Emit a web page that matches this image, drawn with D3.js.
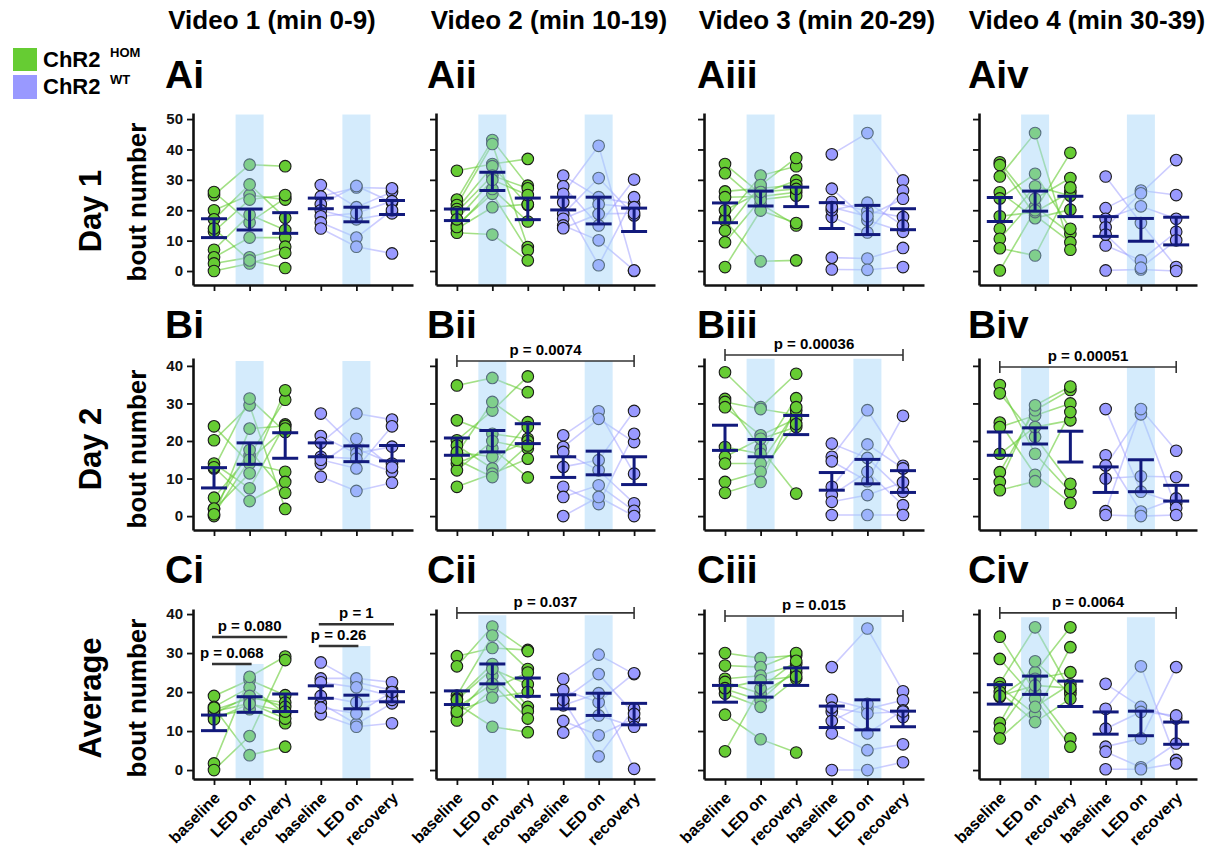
<!DOCTYPE html>
<html>
<head>
<meta charset="utf-8">
<script src="https://cdn.jsdelivr.net/npm/d3@7"></script>
<style>
  body { margin: 0; background: #fff; }
  svg { font-family: "Liberation Sans", Arial, sans-serif; font-weight: bold; }
</style>
</head>
<body>
<svg id="chart" width="1221" height="860"></svg>
<script>
// ---------- data (bout numbers) ----------
const conditions = ['baseline', 'LED on', 'recovery']
const columnTitles = ['Video 1 (min 0-9)', 'Video 2 (min 10-19)', 'Video 3 (min 20-29)', 'Video 4 (min 30-39)']
const rowNames = ['A', 'B', 'C']
const colNames = ['i', 'ii', 'iii', 'iv']
const rowLabels = [['Day 1', 'bout number'], ['Day 2', 'bout number'], ['Average', 'bout number']]
const yTicksByRow = [[0, 10, 20, 30, 40, 50], [0, 10, 20, 30, 40], [0, 10, 20, 30, 40]]

// each subject: [baseline, LED on, recovery]
const Ai_hom = [[25,35,34.5],[26,16,24],[20,25,23.5],[17,28.5,17.5],[13,23.5,25],[7,18.5,13.5],[4.5,11,11],[2.5,4.5,8],[0,2.5,6],[14,3.5,1]]
const Ai_wt = [[28.3,21,26],[24.5,27.5,27.2],[22,28,22.6],[20,17,19],[18,19,23],[16,11,20],[14,8,5.8]]
const Aii_hom = [[33,35.2,36.9],[23.5,43.1,28.1],[21.7,41.8,7.9],[20.4,34.5,21.7],[19.4,31.4,27.2],[15.2,25.4,6.8],[13.9,21,22],[12.6,12,3.5],[14.5,27,16.3],[17,30,25]]
const Aii_wt = [[31.4,24.3,22.1],[27.9,15,30.1],[25.4,41.2,0],[22.6,1.9,24.3],[18.8,30.6,18.3],[17.2,22,21],[15,10.1,0.2],[14.1,18.8,19]]
const Aiii_hom = [[35.2,25.4,29.8],[32.2,22.1,15],[26.2,27.2,28.3],[24.3,24.5,25.9],[17.2,31.4,34.5],[16.6,3.2,3.5],[13.3,28.3,37.2],[9.5,23.5,24.8],[1.3,19.9,15.8],[20,26,27]]
const Aiii_wt = [[38.4,45.4,29.8],[27.1,16.7,12.9],[22.8,19.7,17.8],[17.8,12.7,26.5],[4.4,4.1,7.6],[0.5,0.4,1.3],[20,22.5,15],[21,18,23.8]]
const Aiv_hom = [[35.8,21.2,12.3],[34.9,18.3,9.5],[31.1,45.4,7],[25.9,17.4,20.2],[23.9,32,13.9],[18,19.4,26],[13.9,27.9,24.8],[10.6,23.8,30.6],[7.5,5.1,27.5],[0.2,20,38.9]]
const Aiv_wt = [[31.1,15.8,1.3],[20.7,26.5,25],[17.2,21.3,17.2],[14.4,25.6,36.5],[8.4,3.5,12.9],[0.2,0.5,0],[12,1.1,10.1]]

const Bi_hom = [[23.9,14,11.8],[20.2,29.5,1.9],[14,7.4,24.4],[12.7,31.3,22.4],[4.9,16.2,31],[1.8,11.4,33.5],[0,23.3,24],[13,4,9.1],[2,17.6,6.2],[0.5,15,23.3]]
const Bi_wt = [[27.3,18,14],[21.3,16.7,18.5],[19.5,27.3,25.7],[15.8,15.3,11.8],[14,20.6,13],[10.5,6.7,8.9],[15,12.7,23.9]]
const Bii_hom = [[34.8,36.8,33],[25.5,21.9,20.6],[20.2,28.1,37.2],[18.8,12.7,25],[16.6,30.4,23.7],[14,18,10.3],[12.2,20,18],[7.8,11.3,15.3],[17,15.8,20],[15,10.4,18.8]]
const Bii_wt = [[21.5,27.9,11.3],[18.4,25.9,19.7],[17.1,12.2,3.4],[13.1,14.9,28],[7.8,3.2,21.9],[5.1,8.2,1.4],[0,5.1,0]]
const Biii_hom = [[38.3,29,37.9],[31.2,18,6],[30.4,28.5,27],[29,21.5,25.9],[18.4,16.6,31.4],[15.8,20.6,23.7],[14,14,28.1],[9.1,11.8,24.5],[6.2,9.1,29]]
const Biii_wt = [[19.3,15.5,6.5],[15.8,28.2,13.4],[14.6,9.3,26.7],[7.8,19.1,12.7],[5.6,11.8,2.9],[3.8,5.6,9],[0.3,0.3,0.3]]
const Biv_hom = [[34.9,16.6,6.4],[32.7,21.1,8.6],[24.9,11,3.5],[23.7,26.8,30],[16.6,23.7,25.5],[11.7,28.2,33.6],[9.1,29.5,34.5],[6.9,9.3,27.7]]
const Biv_wt = [[28.5,6.5,3.4],[16.2,1.2,4.7],[13.5,27.1,2.2],[1.3,28.5,17.4],[0.3,0,0.3],[10,10.6,10.4]]

const Ci_hom = [[19,23.1,19.2],[16.2,21.2,14.5],[15.4,18.4,17.3],[13.7,15.6,12],[1.7,23.9,29.1],[0,8.7,28.2],[14.5,19,16.2],[15,17.1,13.2],[16,3.8,6],[13,17,15]]
const Ci_wt = [[27.6,22.5,20.5],[23.5,23.5,22.5],[22.5,21.2,19],[17.1,11.8,17.1],[14.3,11.1,12],[19,17.3,18],[16,14.5,20]]
const Cii_hom = [[29.2,31.3,30.8],[26.6,36.8,30.5],[19.1,34.5,25.9],[18.3,27.2,16.2],[17,11.1,9.7],[14.4,24.2,15.1],[12.7,20.8,25],[16,22.1,13.2],[18,25.9,22],[15,18.6,20]]
const Cii_wt = [[23.4,29.6,24.6],[20.5,17.4,24.8],[17.9,3.5,15.7],[16.6,19.7,0.3],[12.6,8.9,13.2],[9.6,14,11.1],[18,24.6,14.4]]
const Ciii_hom = [[30,28.7,29.4],[26.8,26.4,30],[23.4,24.2,27.2],[22.6,19.6,25],[20.8,17.9,26],[19.6,16.2,23.4],[14.2,7.9,4.5],[4.8,21,28],[21,23,24]]
const Ciii_wt = [[26.4,36.3,20.2],[18,15.7,17.9],[14.9,9.4,15.3],[12.6,17,13.6],[9.4,5.1,6.6],[0,0,2],[16,14.5,15]]
const Civ_hom = [[34.2,20,8.1],[28.5,18.3,6],[22.3,36.6,20.4],[21.3,14.3,31.5],[18.7,25.1,36.6],[12.1,27.9,19.5],[10.6,23.4,25.1],[8.1,16.2,22],[20,12.3,18.3],[19,21.7,21]]
const Civ_wt = [[22.1,16.2,13.2],[15.7,26.6,2.6],[10.6,14.9,14],[6,8.1,26.4],[4.7,0.7,6.8],[0.2,0.2,1.7]]

// error bars [low, high] for the six groups (3 HOM, then 3 WT)
const Ai_err = [[11,17.2],[13.5,20.4],[12.4,19.2],[20.5,24],[16.2,21],[18.6,23.2]]
const Aii_err = [[16.6,20.4],[26.5,32.5],[16.9,24],[20.1,24.3],[15.5,24.3],[13,20.7]]
const Aiii_err = [[15.9,22.4],[21.4,26.3],[21.2,27.6],[14,22.5],[12,21.6],[13.6,20.5]]
const Aiv_err = [[16.3,24.2],[19.7,26.3],[17.9,24.6],[11.4,17.9],[9.8,17.3],[8.6,17.7]]
const Bi_err = [[7.5,12.9],[13.8,19.5],[15.4,22.2],[15.8,19.5],[14.5,18.7],[14.7,18.8]]
const Bii_err = [[16.2,20.8],[17.1,22.8],[19.3,24.6],[10.3,15.8],[11,17.3],[8.4,15.8]]
const Biii_err = [[17.5,24.2],[15.8,20.4],[21.7,26.8],[6.9,11.6],[8.6,15.1],[6.3,12.1]]
const Biv_err = [[16.2,22.4],[19.2,23.5],[14.4,22.6],[6.3,13.1],[6.5,15],[4,8.2]]
const Ci_err = [[10.1,14.1],[14.8,18.8],[15,19.5],[18.4,21.6],[15.7,19.2],[17.5,20.1]]
const Cii_err = [[16.8,20.3],[22.1,27.2],[18.9,23.6],[15.7,19.3],[14,19.7],[11.6,17.1]]
const Ciii_err = [[17.4,21.7],[18.7,22.4],[21.7,26.2],[10.9,16.4],[10.3,18],[11.1,15.1]]
const Civ_err = [[16.9,21.9],[19.4,24.1],[16.3,22.8],[9.2,14.9],[8.8,15.1],[6.6,12.3]]

// top of the light-blue LED bands (bout number), one per band
const bandTops = {
  Ai: [51.5, 51.5], Aii: [51.5, 51.5], Aiii: [51.5, 51.5], Aiv: [51.5, 51.5],
  Bi: [41.3, 41.3], Bii: [41.3, 41.3], Biii: [41.9, 41.9], Biv: [39.7, 39.7],
  Ci: [27.2, 31.8], Cii: [39.7, 39.7], Ciii: [39.2, 39.2], Civ: [39.2, 39.2]
}

// comparisons: group indexes, height (bout number), label, end ticks
const pTests = [
  { panel: 'Bii', from: 0, to: 5, at: 41.3, label: 'p = 0.0074', ends: true },
  { panel: 'Biii', from: 0, to: 5, at: 42.9, label: 'p = 0.00036', ends: true },
  { panel: 'Biv', from: 0, to: 5, at: 39.7, label: 'p = 0.00051', ends: true },
  { panel: 'Ci', from: 0, to: 1, at: 27.2, label: 'p = 0.068', ends: false },
  { panel: 'Ci', from: 0, to: 2, at: 34.1, label: 'p = 0.080', ends: false },
  { panel: 'Ci', from: 3, to: 4, at: 31.8, label: 'p = 0.26', ends: false },
  { panel: 'Ci', from: 3, to: 5, at: 37.4, label: 'p = 1', ends: false },
  { panel: 'Cii', from: 0, to: 5, at: 40.3, label: 'p = 0.037', ends: true },
  { panel: 'Ciii', from: 0, to: 5, at: 39.5, label: 'p = 0.015', ends: true },
  { panel: 'Civ', from: 0, to: 5, at: 40.3, label: 'p = 0.0064', ends: true }
]

const subjects = {
  Ai: [Ai_hom, Ai_wt], Aii: [Aii_hom, Aii_wt], Aiii: [Aiii_hom, Aiii_wt], Aiv: [Aiv_hom, Aiv_wt],
  Bi: [Bi_hom, Bi_wt], Bii: [Bii_hom, Bii_wt], Biii: [Biii_hom, Biii_wt], Biv: [Biv_hom, Biv_wt],
  Ci: [Ci_hom, Ci_wt], Cii: [Cii_hom, Cii_wt], Ciii: [Ciii_hom, Ciii_wt], Civ: [Civ_hom, Civ_wt]
}
const errors = {
  Ai: Ai_err, Aii: Aii_err, Aiii: Aiii_err, Aiv: Aiv_err,
  Bi: Bi_err, Bii: Bii_err, Biii: Biii_err, Biv: Biv_err,
  Ci: Ci_err, Cii: Cii_err, Ciii: Ciii_err, Civ: Civ_err
}

// ---------- layout ----------
const GREEN = '#66cc33'
const PURPLE = '#9999ff'
const NAVY = '#121a7c'
const colLeft = [193, 436, 704, 979]
const colRight = [413, 655, 924, 1197]
const colTitleX = [272, 549, 817, 1087]
const letterX = [165, 427, 697, 968]
const rows = [
  { bottom: 285, top: 113, domain: [-4.6, 52], letterY: 88, labelY: [211, 202] },
  { bottom: 530, top: 358, domain: [-3.7, 42.1], letterY: 338, labelY: [449, 449] },
  { bottom: 779, top: 609, domain: [-2.3, 41.3], letterY: 583, labelY: [698, 698] }
]

const svg = d3.select('#chart')

// legend
svg.append('rect').attr('x', 13).attr('y', 48).attr('width', 24).attr('height', 23).attr('fill', GREEN)
svg.append('rect').attr('x', 13).attr('y', 75).attr('width', 24).attr('height', 24).attr('fill', PURPLE)
svg.append('text').attr('x', 43).attr('y', 67).attr('font-size', 22).text('ChR2')
svg.append('text').attr('x', 110).attr('y', 57).attr('font-size', 13).text('HOM')
svg.append('text').attr('x', 43).attr('y', 94).attr('font-size', 22).text('ChR2')
svg.append('text').attr('x', 110).attr('y', 84).attr('font-size', 13).text('WT')

// column titles
svg.selectAll('.coltitle')
  .data(columnTitles)
  .enter()
  .append('text')
  .attr('class', 'coltitle')
  .attr('x', (d, i) => colTitleX[i])
  .attr('y', 29)
  .attr('text-anchor', 'middle')
  .attr('font-size', 26)
  .text(d => d)

rows.forEach(function(row, r){

  // row labels
  svg.append('text')
    .attr('transform', 'translate(101,' + row.labelY[0] + ') rotate(-90)')
    .attr('text-anchor', 'middle')
    .attr('font-size', 31)
    .text(rowLabels[r][0])
  svg.append('text')
    .attr('transform', 'translate(146,' + row.labelY[1] + ') rotate(-90)')
    .attr('text-anchor', 'middle')
    .attr('font-size', 26)
    .text(rowLabels[r][1])

  colNames.forEach(function(cn, c){

    const name = rowNames[r] + cn
    const g = svg.append('g')

    const x = d3.scalePoint()
      .domain(d3.range(6))
      .range([colLeft[c], colRight[c]])
      .padding(0.59)
    const y = d3.scaleLinear()
      .domain(row.domain)
      .range([row.bottom, row.top])

    // panel letter
    svg.append('text')
      .attr('x', letterX[c])
      .attr('y', row.letterY)
      .attr('font-size', 39)
      .text(name)

    // paired lines and points, HOM then WT
    const line = d3.line().x(d => x(d[0])).y(d => y(d[1]))
    subjects[name].forEach(function(group, k){
      const colour = k == 0 ? GREEN : PURPLE
      const off = k * 3
      g.selectAll('pair' + k)
        .data(group)
        .enter()
        .append('path')
        .attr('d', s => line(s.map((v, i) => [i + off, v])))
        .attr('fill', 'none')
        .attr('stroke', colour)
        .attr('stroke-opacity', k == 0 ? 0.6 : 0.5)
        .attr('stroke-width', 1.6)

      const pts = []
      group.forEach(s => s.forEach((v, i) => pts.push([i + off, v])))
      g.selectAll('dot' + k)
        .data(pts)
        .enter()
        .append('circle')
        .attr('cx', d => x(d[0]))
        .attr('cy', d => y(d[1]))
        .attr('r', 5.8)
        .attr('fill', colour)
        .attr('stroke', '#1a1a1a')
        .attr('stroke-width', 1.1)
    })

    // LED on bands drawn over the points
    g.selectAll('band')
      .data([1, 4])
      .enter()
      .append('rect')
      .attr('x', d => x(d) - 14)
      .attr('width', 28)
      .attr('y', (d, i) => y(bandTops[name][i]))
      .attr('height', (d, i) => row.bottom - y(bandTops[name][i]))
      .attr('fill', '#9fd2f8')
      .attr('fill-opacity', 0.45)

    // error bars
    const eb = g.selectAll('err')
      .data(errors[name])
      .enter()
      .append('g')
      .attr('stroke', NAVY)
      .attr('stroke-width', 3)
    eb.append('line')
      .attr('x1', (d, i) => x(i) - 13).attr('x2', (d, i) => x(i) + 13)
      .attr('y1', d => y(d[0])).attr('y2', d => y(d[0]))
    eb.append('line')
      .attr('x1', (d, i) => x(i) - 13).attr('x2', (d, i) => x(i) + 13)
      .attr('y1', d => y(d[1])).attr('y2', d => y(d[1]))
    eb.append('line')
      .attr('x1', (d, i) => x(i)).attr('x2', (d, i) => x(i))
      .attr('y1', d => y(d[0])).attr('y2', d => y(d[1]))

    // axes
    const yAxis = d3.axisLeft(y)
      .tickValues(yTicksByRow[r])
      .tickSize(6)
      .tickSizeOuter(0)
      .tickPadding(4)
    if(c > 0) yAxis.tickFormat('')
    const ya = g.append('g')
      .attr('transform', 'translate(' + colLeft[c] + ',0)')
      .call(yAxis)
    const xa = g.append('g')
      .attr('transform', 'translate(0,' + row.bottom + ')')
      .call(d3.axisBottom(x).tickSize(6).tickSizeOuter(0).tickFormat(''))
    ;[ya, xa].forEach(function(a){
      a.select('.domain').attr('stroke', '#111').attr('stroke-width', 2.6)
      a.selectAll('.tick line').attr('stroke', '#111').attr('stroke-width', 1.8)
      a.selectAll('.tick text')
        .attr('fill', '#111')
        .attr('font-size', 15)
        .attr('font-family', '"Liberation Sans", Arial, sans-serif')
        .attr('font-weight', 'bold')
    })

    // rotated condition labels on the bottom row
    if(r == 2){
      g.selectAll('xlab')
        .data(d3.range(6))
        .enter()
        .append('text')
        .attr('transform', d => 'translate(' + (x(d) + 7) + ',' + (row.bottom + 20) + ') rotate(-45)')
        .attr('text-anchor', 'end')
        .attr('font-size', 16)
        .text(d => conditions[d % 3])
    }

    // comparison brackets
    pTests.filter(t => t.panel == name).forEach(function(t){
      const yy = y(t.at)
      g.append('line')
        .attr('x1', x(t.from) - (t.ends ? 0 : 2)).attr('x2', x(t.to) + (t.ends ? 0 : 2))
        .attr('y1', yy).attr('y2', yy)
        .attr('stroke', '#333').attr('stroke-width', t.ends ? 1.6 : 2.4)
      if(t.ends){
        ;[t.from, t.to].forEach(function(e){
          g.append('line')
            .attr('x1', x(e)).attr('x2', x(e))
            .attr('y1', yy - 6).attr('y2', yy + 6)
            .attr('stroke', '#333').attr('stroke-width', 1.6)
        })
      }
      g.append('text')
        .attr('x', (x(t.from) + x(t.to)) / 2)
        .attr('y', yy - 6)
        .attr('text-anchor', 'middle')
        .attr('font-size', 15)
        .text(t.label)
    })
  })
})
</script>
</body>
</html>
